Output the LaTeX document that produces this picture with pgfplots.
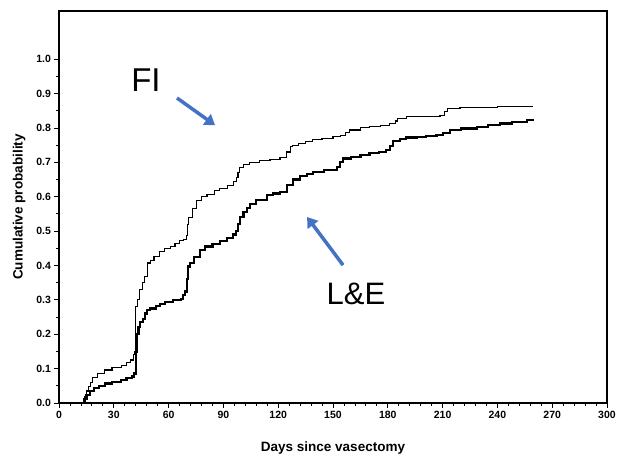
\documentclass[border=0pt]{standalone}
\usepackage{pgfplots}
\pgfplotsset{compat=1.18}
\usepackage{fontspec}
\setmainfont{Liberation Sans}
\usetikzlibrary{arrows.meta}
\definecolor{arrowblue}{RGB}{68,114,196}
\begin{document}
\begin{tikzpicture}
\begin{axis}[
  scale only axis,
  width=548pt, height=392pt,
  xmin=0, xmax=300, ymin=0, ymax=1.14,
  xtick={0,30,...,300}, minor x tick num=4,
  ytick={0,0.1,...,1.0}, minor ytick={0.05,0.15,...,0.95},
  tick align=outside, xtick pos=bottom, ytick pos=left,
  major tick length=4.5pt, minor tick length=2.5pt,
  axis line style={line width=1.2pt},
  every tick/.style={line width=0.8pt, black},
  tick label style={font=\bfseries\fontsize{10.5}{12}\selectfont},
  /pgf/number format/assume math mode=true,
  yticklabel style={/pgf/number format/.cd, fixed, fixed zerofill, precision=1},
  xlabel={Days since vasectomy}, ylabel={Cumulative probability},
  label style={font=\bfseries\fontsize{13.5}{15}\selectfont},
  xlabel style={yshift=-16pt},
  ylabel style={yshift=4pt},
  clip=false,
]
% FI
\addplot[const plot, black, line width=1.1pt] coordinates {
(0,0) (13.5,0) (14,0.02) (15,0.035) (16,0.047) (17,0.06) (18.5,0.073) (21,0.085) (25,0.096) (29,0.104) (34,0.11) (37,0.118) (39,0.125) (40.7,0.14) (41.5,0.15) (42,0.28) (43,0.30) (44.3,0.33) (45.5,0.35) (47,0.367) (48.5,0.407) (50,0.415) (52,0.425) (55,0.44) (58,0.45) (61,0.455) (63.5,0.464) (66,0.472) (68,0.476) (70,0.488) (70.5,0.52) (71,0.54) (73,0.565) (75.5,0.59) (78,0.60) (81,0.607) (85,0.618) (88,0.623) (92,0.632) (95.3,0.643) (97,0.655) (98,0.67) (99,0.685) (101,0.693) (104.5,0.70) (110,0.706) (115.5,0.709) (121,0.714) (124.5,0.73) (126.5,0.745) (128,0.75) (131,0.755) (135,0.76) (139,0.765) (144,0.77) (150,0.776) (154,0.779) (157,0.786) (159,0.794) (165,0.80) (170,0.803) (176,0.808) (181,0.813) (184,0.82) (185.5,0.828) (190,0.832) (196,0.832) (200,0.834) (208.6,0.837) (211,0.848) (212.5,0.856) (219.5,0.859) (230,0.86) (240,0.861) (247,0.863) (259.5,0.863)
};
% L&E
\addplot[const plot, black, line width=2.2pt] coordinates {
(0,0) (13.5,0) (14,0.012) (15,0.023) (17,0.035) (19,0.043) (22,0.05) (25,0.057) (29,0.062) (34,0.067) (37,0.072) (39.8,0.077) (41,0.086) (42,0.15) (42.5,0.20) (43.5,0.22) (44.5,0.235) (46,0.245) (47,0.26) (48,0.27) (50,0.275) (53,0.282) (55.3,0.288) (58,0.294) (62.6,0.30) (67,0.302) (68,0.315) (69,0.324) (70,0.36) (70.8,0.397) (71.7,0.406) (74,0.425) (77,0.445) (80,0.455) (84,0.462) (88,0.47) (92,0.48) (95.4,0.49) (97,0.50) (98,0.52) (99,0.54) (101,0.555) (103,0.568) (104.5,0.578) (108,0.59) (113.7,0.605) (117,0.609) (121,0.613) (124.6,0.635) (128,0.65) (132,0.66) (135.6,0.665) (139,0.672) (145,0.678) (152,0.687) (154,0.70) (155.6,0.711) (160,0.716) (165,0.721) (170,0.726) (175,0.73) (179,0.735) (181,0.748) (183,0.763) (186.7,0.767) (190,0.772) (196,0.774) (201,0.776) (206.7,0.779) (210,0.786) (214,0.795) (220,0.798) (228.7,0.803) (235,0.808) (241.4,0.813) (248,0.817) (256,0.823) (259.5,0.825)
};
\node[font=\fontsize{33}{36}\selectfont] at (axis cs:47.6,0.939) {FI};
\node[font=\fontsize{31}{34}\selectfont] at (axis cs:162.6,0.317) {L\&E};
\draw[arrowblue, line width=3.5pt, -{Triangle[width=13pt,length=10pt]}] (axis cs:64.6,0.887) -- (axis cs:85.4,0.808);
\draw[arrowblue, line width=3.5pt, -{Triangle[width=13pt,length=10pt]}] (axis cs:155.5,0.401) -- (axis cs:135.8,0.541);
\end{axis}
\pgfresetboundingbox
\path[use as bounding box] (-59pt,-60pt) rectangle (561pt,403pt);
\end{tikzpicture}
\end{document}
